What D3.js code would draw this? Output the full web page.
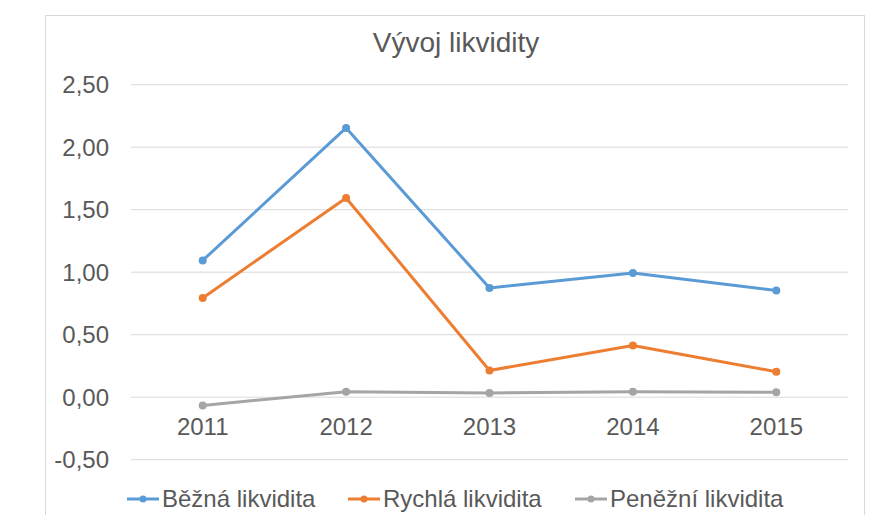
<!DOCTYPE html>
<html><head><meta charset="utf-8">
<script src="https://cdn.jsdelivr.net/npm/d3@7"></script>
<style>body{margin:0;background:#fff}svg{display:block;font-family:"Liberation Sans",Arial,sans-serif}</style>
</head><body><svg id="c" width="895" height="515"></svg>
<script>
const title = "Vývoj likvidity";
const categories = ["2011","2012","2013","2014","2015"];
const seriesNames = ["Běžná likvidita","Rychlá likvidita","Peněžní likvidita"];
const bezna = [1.09, 2.15, 0.87, 0.99, 0.85];
const rychla = [0.79, 1.59, 0.21, 0.41, 0.20];
const penezni = [-0.07, 0.04, 0.03, 0.04, 0.035];
const yTicks = [-0.5, 0, 0.5, 1, 1.5, 2, 2.5];
const colors = ["#5B9BD5","#ED7D31","#A5A5A5"];

(function(){
const series = [bezna, rychla, penezni].map((v,i)=>({name:seriesNames[i], values:v, color:colors[i]}));
const svg = d3.select("#c");
const pL=131, pR=848, pT=84.2, pB=459.2;
const x = d3.scaleBand().domain(categories).range([pL,pR]);
const y = d3.scaleLinear().domain([-0.5,2.5]).range([pB,pT]);
const fmt = v => d3.format(".2f")(v).replace(".",",").replace("−","-");

svg.append("rect").attr("x",45.5).attr("y",15.5).attr("width",819).attr("height",520)
  .attr("fill","none").attr("stroke","#d9d9d9").attr("stroke-width",1);

const yAxis = d3.axisLeft(y).tickValues(yTicks).tickSize(-(pR-pL)).tickFormat(fmt).tickPadding(22);
const gy = svg.append("g").attr("transform",`translate(${pL},0)`).call(yAxis);
gy.select(".domain").remove();
gy.selectAll(".tick line").attr("stroke","#d9d9d9").attr("stroke-width",1);
gy.selectAll(".tick text").attr("fill","#595959").style("font-size","24px").attr("dy","0.35em");

const xAxis = d3.axisBottom(x).tickSize(0).tickPadding(21);
const gx = svg.append("g").attr("transform",`translate(0,${y(0)})`).call(xAxis);
gx.select(".domain").remove();
gx.selectAll(".tick text").attr("fill","#595959").style("font-size","24px");

svg.append("text").attr("x",456).attr("y",52).attr("text-anchor","middle")
  .attr("fill","#595959").style("font-size","28px").text(title);

const cx = i => x(categories[i])+x.bandwidth()/2;
const line = d3.line().x((d,i)=>cx(i)).y(d=>y(d));
series.forEach(s=>{
  svg.append("path").datum(s.values).attr("d",line).attr("fill","none")
    .attr("stroke",s.color).attr("stroke-width",3).attr("stroke-linejoin","round");
  svg.append("g").selectAll("circle").data(s.values).join("circle")
    .attr("cx",(d,i)=>cx(i)).attr("cy",d=>y(d)).attr("r",4).attr("fill",s.color);
});

const legX = [127, 348, 575];
const legY = 499;
series.forEach((s,i)=>{
  const g = svg.append("g").attr("transform",`translate(${legX[i]},${legY})`);
  g.append("line").attr("x1",0).attr("x2",32).attr("y1",0).attr("y2",0).attr("stroke",s.color).attr("stroke-width",3);
  g.append("circle").attr("cx",16).attr("cy",0).attr("r",3.5).attr("fill",s.color);
  g.append("text").attr("x",35).attr("y",0).attr("dy","0.35em").attr("fill","#595959")
    .style("font-size","24px").text(s.name);
});
})();
</script></body></html>
